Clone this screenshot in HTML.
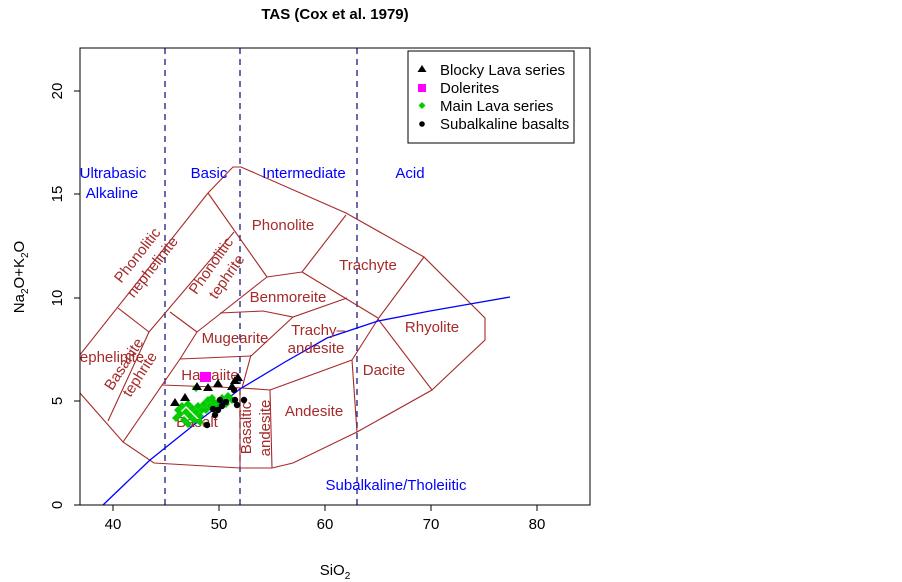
<!DOCTYPE html>
<html><head><meta charset="utf-8"><style>
body{margin:0;background:#fff}
svg{display:block;font-family:"Liberation Sans",Arial,sans-serif}
</style></head><body>
<svg width="902" height="582" viewBox="0 0 902 582" xmlns="http://www.w3.org/2000/svg">
<rect width="902" height="582" fill="#fff"/>
<text x="335" y="19" font-size="15" font-weight="bold" text-anchor="middle">TAS (Cox et al. 1979)</text>
<defs><clipPath id="c"><rect x="80" y="48" width="510" height="457"/></clipPath>
<path id="d" d="M0,-4 L4,0 0,4 -4,0z"/></defs>
<g clip-path="url(#c)">
<g stroke="#1a1a80" stroke-width="1.3" stroke-dasharray="6,5">
<line x1="165" y1="48" x2="165" y2="505"/><line x1="240" y1="48" x2="240" y2="505"/><line x1="357" y1="48" x2="357" y2="505"/>
</g>
<g fill="none" stroke="#a52a2a" stroke-width="1.1">
<polyline points="60,372 80,393 123,442 154,463 240,468 272,468 293,463 357,432 432,390 485,340 485,318 424,257 346,213 241,167 233,167 208,193 60,380"/>
<line x1="118" y1="308" x2="149" y2="332"/>
<line x1="208" y1="193" x2="267" y2="277"/>
<line x1="149" y1="332" x2="234" y2="232"/>
<line x1="149" y1="332" x2="108" y2="421"/>
<line x1="170" y1="312" x2="197" y2="332"/>
<line x1="267" y1="277" x2="302" y2="272"/>
<line x1="302" y1="272" x2="346" y2="215"/>
<line x1="302" y1="272" x2="378" y2="318"/>
<line x1="267" y1="277" x2="197" y2="332"/>
<line x1="197" y1="332" x2="180" y2="359"/>
<polyline points="220,313 263,311 293,317 347,298"/>
<line x1="180" y1="359" x2="251" y2="356"/>
<line x1="251" y1="356" x2="293" y2="317"/>
<line x1="251" y1="355" x2="242" y2="388"/>
<line x1="162" y1="385" x2="242" y2="388"/>
<line x1="242" y1="388" x2="270" y2="390"/>
<line x1="270" y1="390" x2="352" y2="360"/>
<line x1="352" y1="360" x2="357" y2="432"/>
<line x1="352" y1="360" x2="378" y2="319"/>
<line x1="378" y1="319" x2="432" y2="390"/>
<line x1="378" y1="319" x2="424" y2="257"/>
<line x1="240" y1="388" x2="240" y2="468"/>
<line x1="270" y1="390" x2="272" y2="468"/>
<line x1="180" y1="359" x2="123" y2="442"/>
</g>
<polyline fill="none" stroke="#0000ff" stroke-width="1.3" points="103,505 150,460 200,420 240,389 285,362 327,338 378,321 430,311 470,304 510,297"/>
<g fill="#0000ff" font-size="15" text-anchor="middle">
<text x="113" y="178">Ultrabasic</text><text x="112" y="198">Alkaline</text>
<text x="209" y="178">Basic</text><text x="304" y="178">Intermediate</text>
<text x="410" y="178">Acid</text><text x="396" y="490">Subalkaline/Tholeiitic</text>
</g>
<g fill="#a52a2a" font-size="15" text-anchor="middle">
<text x="283" y="230">Phonolite</text><text x="368" y="270">Trachyte</text>
<text x="288" y="302">Benmoreite</text><text x="235" y="343">Mugearite</text>
<text x="318" y="335">Trachy–</text><text x="316" y="353">andesite</text>
<text x="432" y="332">Rhyolite</text><text x="384" y="375">Dacite</text>
<text x="210" y="380">Hawaiite</text><text x="314" y="416">Andesite</text>
<text x="197" y="427">Basalt</text><text x="112" y="362">ephelinite</text>
<text transform="translate(146,262) rotate(-52)"><tspan x="0" y="-6">Phonolitic</tspan><tspan x="0" y="13">nephelinite</tspan></text>
<text transform="translate(220,272) rotate(-55)"><tspan x="0" y="-6">Phonolitic</tspan><tspan x="0" y="13">tephrite</tspan></text>
<text transform="translate(133,370) rotate(-57)"><tspan x="0" y="-6">Basanite</tspan><tspan x="0" y="13">tephrite</tspan></text>
<text transform="translate(256,428) rotate(-90)"><tspan x="0" y="-5">Basaltic</tspan><tspan x="0" y="14">andesite</tspan></text>
</g>
<g fill="#00cc00">
<use href="#d" x="176" y="418"/><use href="#d" x="180" y="414"/><use href="#d" x="184" y="420"/><use href="#d" x="186" y="412"/><use href="#d" x="190" y="416"/><use href="#d" x="188" y="424"/><use href="#d" x="192" y="408"/><use href="#d" x="196" y="412"/><use href="#d" x="194" y="420"/><use href="#d" x="198" y="406"/><use href="#d" x="202" y="410"/><use href="#d" x="200" y="416"/><use href="#d" x="204" y="404"/><use href="#d" x="208" y="400"/><use href="#d" x="206" y="410"/><use href="#d" x="210" y="406"/><use href="#d" x="214" y="402"/><use href="#d" x="212" y="398"/><use href="#d" x="218" y="402"/><use href="#d" x="222" y="398"/><use href="#d" x="228" y="396"/><use href="#d" x="226" y="404"/><use href="#d" x="182" y="406"/><use href="#d" x="178" y="410"/><use href="#d" x="196" y="388"/><use href="#d" x="232" y="400"/><use href="#d" x="188" y="404"/><use href="#d" x="200" y="422"/><use href="#d" x="216" y="408"/>
</g>
<g fill="#000">
<circle cx="207" cy="425" r="3.2"/><circle cx="215" cy="415" r="3.2"/><circle cx="218" cy="410" r="3.2"/><circle cx="222" cy="406" r="3.2"/><circle cx="213" cy="409" r="3.2"/><circle cx="220" cy="400" r="3.2"/><circle cx="235" cy="400" r="3.2"/><circle cx="237" cy="405" r="3.2"/><circle cx="244" cy="400" r="3.2"/><circle cx="234" cy="390" r="3.2"/><circle cx="226" cy="402" r="3.2"/>
<path d="M185,393 l5,8 h-10z M175,398 l5,8 h-10z M208,383 l5,8 h-10z M218,379 l5,8 h-10z M232,382 l5,8 h-10z M235,376 l5,8 h-10z M238,373 l5,8 h-10z M197,382 l5,8 h-10z"/>
</g>
<rect x="200" y="372" width="11" height="10" fill="#ff00ff"/>
</g>
<rect x="80" y="48" width="510" height="457" fill="none" stroke="#000" stroke-width="1"/>
<g stroke="#000">
<line x1="113" y1="505" x2="113" y2="511"/><line x1="219" y1="505" x2="219" y2="511"/><line x1="325" y1="505" x2="325" y2="511"/><line x1="431" y1="505" x2="431" y2="511"/><line x1="537" y1="505" x2="537" y2="511"/>
<line x1="74" y1="505" x2="80" y2="505"/><line x1="74" y1="401" x2="80" y2="401"/><line x1="74" y1="298" x2="80" y2="298"/><line x1="74" y1="194" x2="80" y2="194"/><line x1="74" y1="91" x2="80" y2="91"/>
</g>
<g font-size="15" text-anchor="middle">
<text x="113" y="529">40</text><text x="219" y="529">50</text><text x="325" y="529">60</text><text x="431" y="529">70</text><text x="537" y="529">80</text>
<text transform="translate(62,505) rotate(-90)">0</text>
<text transform="translate(62,401) rotate(-90)">5</text>
<text transform="translate(62,298) rotate(-90)">10</text>
<text transform="translate(62,194) rotate(-90)">15</text>
<text transform="translate(62,91) rotate(-90)">20</text>
<text x="335" y="575">SiO<tspan font-size="10" dy="4">2</tspan></text>
<text transform="translate(24,277) rotate(-90)">Na<tspan font-size="10" dy="4">2</tspan><tspan dy="-4">O+K</tspan><tspan font-size="10" dy="4">2</tspan><tspan dy="-4">O</tspan></text>
</g>
<rect x="408" y="51" width="166" height="92" fill="#fff" stroke="#000"/>
<path d="M422,65 l4.5,7 h-9z" fill="#000"/>
<rect x="418" y="84" width="8" height="8" fill="#ff00ff"/>
<path d="M422,102 l3.5,3.5 -3.5,3.5 -3.5,-3.5z" fill="#00cc00"/>
<circle cx="422" cy="124" r="2.8" fill="#000"/>
<g font-size="15"><text x="440" y="75">Blocky Lava series</text><text x="440" y="93">Dolerites</text><text x="440" y="111">Main Lava series</text><text x="440" y="129">Subalkaline basalts</text></g>
</svg>
</body></html>
